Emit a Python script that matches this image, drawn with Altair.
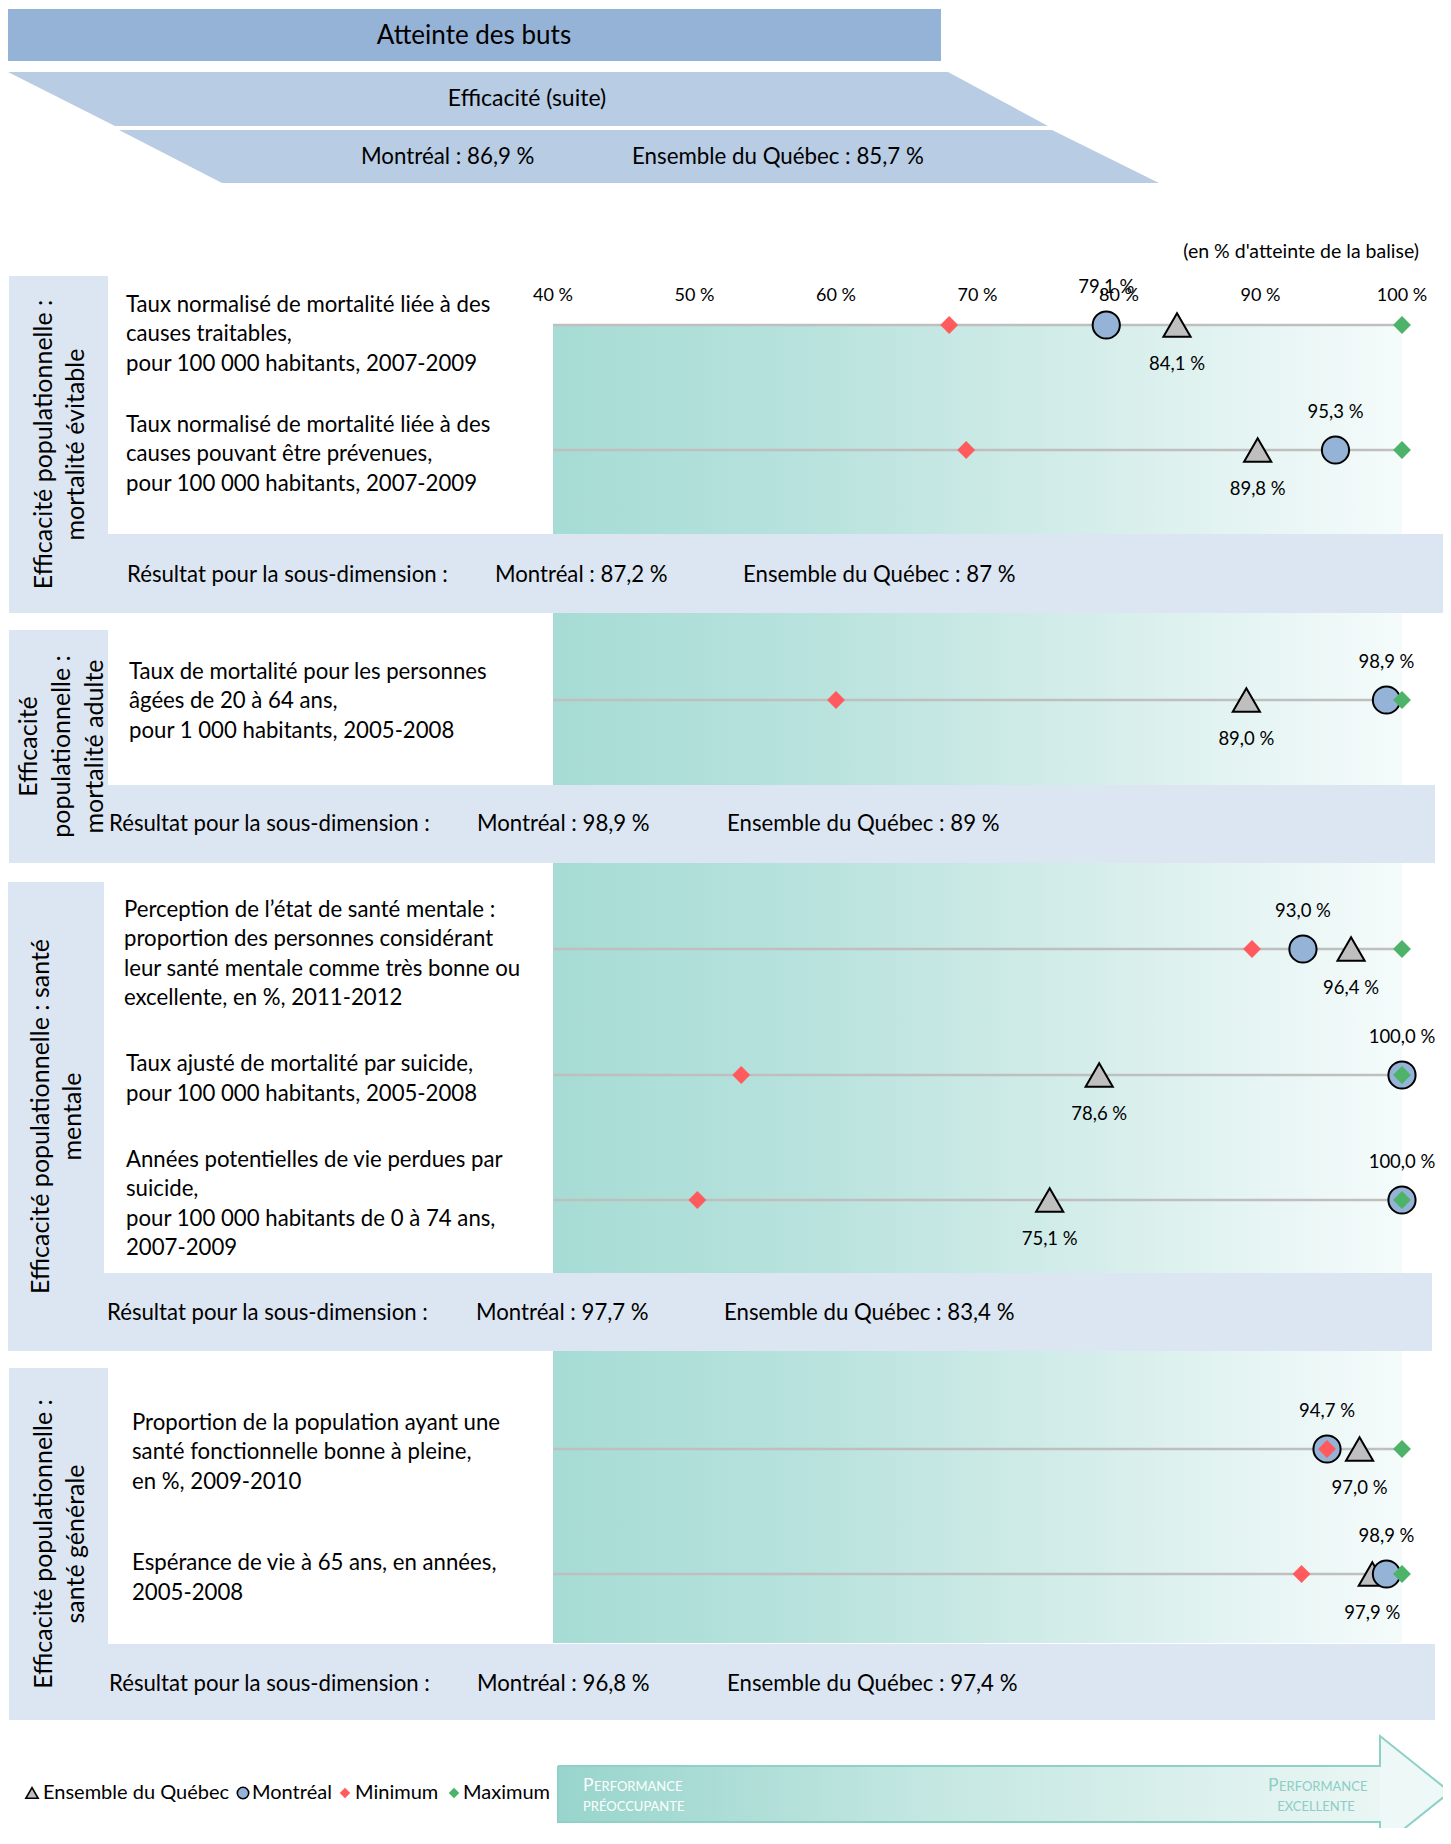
import altair as alt
import pandas as pd

# ---------------- data ----------------
header_title = "Atteinte des buts"
header_sub = "Efficacité (suite)"
header_montreal = "Montréal : 86,9 %"
header_quebec = "Ensemble du Québec : 85,7 %"
scale_note = "(en % d'atteinte de la balise)"

tick_values = [40, 50, 60, 70, 80, 90, 100]
tick_labels = ["40 %", "50 %", "60 %", "70 %", "80 %", "90 %", "100 %"]

panel_titles = [
    "Efficacité populationnelle :\nmortalité évitable",
    "Efficacité\npopulationnelle :\nmortalité adulte",
    "Efficacité populationnelle : santé\nmentale",
    "Efficacité populationnelle :\nsanté générale",
]
result_label = "Résultat pour la sous-dimension :"
panel_montreal = ["Montréal : 87,2 %", "Montréal : 98,9 %", "Montréal : 97,7 %", "Montréal : 96,8 %"]
panel_quebec = ["Ensemble du Québec : 87 %", "Ensemble du Québec : 89 %",
                "Ensemble du Québec : 83,4 %", "Ensemble du Québec : 97,4 %"]

indicator_labels = [
    "Taux normalisé de mortalité liée à des\ncauses traitables,\npour 100 000 habitants, 2007-2009",
    "Taux normalisé de mortalité liée à des\ncauses pouvant être prévenues,\npour 100 000 habitants, 2007-2009",
    "Taux de mortalité pour les personnes\nâgées de 20 à 64 ans,\npour 1 000 habitants, 2005-2008",
    "Perception de l’état de santé mentale :\nproportion des personnes considérant\nleur santé mentale comme très bonne ou\nexcellente, en %, 2011-2012",
    "Taux ajusté de mortalité par suicide,\npour 100 000 habitants, 2005-2008",
    "Années potentielles de vie perdues par\nsuicide,\npour 100 000 habitants de 0 à 74 ans,\n2007-2009",
    "Proportion de la population ayant une\nsanté fonctionnelle bonne à pleine,\nen %, 2009-2010",
    "Espérance de vie à 65 ans, en années,\n2005-2008",
]
quebec_values = [84.1, 89.8, 89.0, 96.4, 78.6, 75.1, 97.0, 97.9]
montreal_values = [79.1, 95.3, 98.9, 93.0, 100.0, 100.0, 94.7, 98.9]
min_values = [68.0, 69.2, 60.0, 89.4, 53.3, 50.2, 94.7, 92.9]
max_values = [100.0, 100.0, 100.0, 100.0, 100.0, 100.0, 100.0, 100.0]

legend_labels = ["Ensemble du Québec", "Montréal", "Minimum", "Maximum"]
arrow_left = ["P", "ERFORMANCE", "PRÉOCCUPANTE"]
arrow_right = ["P", "ERFORMANCE", "EXCELLENTE"]

# ---------------- layout (page pixels) ----------------
W, H = 1435, 1820
X0, Y0 = 8, 8
PCT_RANGE = (553, 1402)
ROW_Y = [325, 450, 700, 949, 1075, 1200, 1449, 1574]
TEXT_Y = [334, 454, 701, 954, 1079, 1204, 1452, 1578]
TEXT_X = [126, 126, 129, 124, 126, 126, 132, 132]
LINE_H = 29.5
BOX = [(9, 108, 276, 613), (9, 108, 630, 863), (6, 104, 882, 1351), (9, 108, 1368, 1720)]
BAND = [(9, 1451, 534, 613), (9, 1435, 785, 863), (6, 1432, 1273, 1351), (9, 1435, 1644, 1720)]
BAND_TEXT_Y = [575, 824, 1313, 1684]
BAND_TEXT_X = [(127, 495, 743), (109, 477, 727), (107, 476, 724), (109, 477, 727)]
TITLE_X = [[43.5, 76.4], [29, 62, 94.5], [41, 73], [43.5, 76.4]]
FONT = "Lato"
FS_BODY = 22.2

C_TITLE = "#95b3d7"
C_BANNER = "#b8cce4"
C_PANEL = "#dce6f2"
C_LINE = "#bfbfbf"
C_MTL = "#95b3d7"
C_QC = "#bfbfbf"
C_MIN = "#ff5b5f"
C_MAX = "#4db368"

sx = alt.Scale(domain=[X0, X0 + W], range=[0, W], nice=False, zero=False)
sy = alt.Scale(domain=[Y0, Y0 + H], range=[0, H], nice=False, zero=False)
sp = alt.Scale(domain=[40, 100], range=[PCT_RANGE[0] - X0, PCT_RANGE[1] - X0], nice=False, zero=False)


def PX(f="x"):
    return alt.X(f"{f}:Q", scale=sx, axis=None)


def PY(f="y"):
    return alt.Y(f"{f}:Q", scale=sy, axis=None)


def PCT(f="v"):
    return alt.X(f"{f}:Q", scale=sp, axis=None)


def rects(rows, color):
    df = pd.DataFrame(rows, columns=["x", "x2", "y", "y2"])
    return alt.Chart(df).mark_rect(color=color, opacity=1).encode(
        x=PX("x"), x2=alt.X2("x2"), y=PY("y"), y2=alt.Y2("y2"))


def texts(rows, align="left", baseline="middle", size=20, color="black", angle=0):
    df = pd.DataFrame(rows, columns=["x", "y", "t"])
    kw = dict(align=align, baseline=baseline, font=FONT, fontSize=size, color=color)
    if angle:
        kw["angle"] = angle
    return alt.Chart(df).mark_text(**kw).encode(x=PX("x"), y=PY("y"), text="t:N")


def split_lines(text, x, yc, lh):
    parts = text.split("\n")
    n = len(parts)
    return [(x, yc + (i - (n - 1) / 2) * lh, p) for i, p in enumerate(parts)]


def fmt(v):
    return f"{v:.1f}".replace(".", ",") + " %"


layers = []

# background gradient of the scale
grad = alt.LinearGradient(
    gradient="linear", x1=0, x2=1, y1=0, y2=0,
    stops=[alt.GradientStop(color="#a6dcd5", offset=0),
           alt.GradientStop(color="#b8e2dd", offset=0.3),
           alt.GradientStop(color="#d6eeeb", offset=0.65),
           alt.GradientStop(color="#f5fbfb", offset=1)])
gdf = pd.DataFrame([{"x": PCT_RANGE[0], "x2": PCT_RANGE[1], "y": ROW_Y[0], "y2": BAND[3][3] - 77}])
layers.append(alt.Chart(gdf).mark_rect(color=grad).encode(
    x=PX("x"), x2=alt.X2("x2"), y=PY("y"), y2=alt.Y2("y2")))

# header
layers.append(rects([(6, 941, 9, 61)], C_TITLE))
ban = pd.DataFrame([
    {"g": 1, "y": 72, "x": 8, "x2": 948}, {"g": 1, "y": 126, "x": 115, "x2": 1048},
    {"g": 2, "y": 130, "x": 119, "x2": 1052}, {"g": 2, "y": 183, "x": 222, "x2": 1159},
])
layers.append(alt.Chart(ban).mark_area(orient="horizontal", color=C_BANNER, opacity=1).encode(
    y=PY("y"), x=PX("x"), x2=alt.X2("x2"), detail="g:N"))
layers.append(texts([(474, 36, header_title)], align="center", size=26))
layers.append(texts([(527, 99, header_sub)], align="center", size=23))
layers.append(texts([(361, 157, header_montreal), (632, 157, header_quebec)], size=22.3))
layers.append(texts([(1419, 252, scale_note)], align="right", size=19.5))

# panels
layers.append(rects(BOX, C_PANEL))
layers.append(rects(BAND, C_PANEL))
title_rows = []
for k, t in enumerate(panel_titles):
    yc = (BOX[k][2] + BOX[k][3]) / 2
    for xi, line in zip(TITLE_X[k], t.split("\n")):
        title_rows.append((xi, yc, line))
layers.append(texts(title_rows, align="center", size=25, angle=270))
band_rows = []
for k in range(4):
    bx = BAND_TEXT_X[k]
    band_rows += [(bx[0], BAND_TEXT_Y[k], result_label),
                  (bx[1], BAND_TEXT_Y[k], panel_montreal[k]),
                  (bx[2], BAND_TEXT_Y[k], panel_quebec[k])]
layers.append(texts(band_rows, size=FS_BODY))

# indicator descriptions
ind_rows = []
for i, t in enumerate(indicator_labels):
    ind_rows += split_lines(t, TEXT_X[i], TEXT_Y[i], LINE_H)
layers.append(texts(ind_rows, size=FS_BODY))

# scale tick labels
tdf = pd.DataFrame({"v": tick_values, "t": tick_labels, "y": [296] * len(tick_values)})
layers.append(alt.Chart(tdf).mark_text(font=FONT, fontSize=18, color="black", baseline="middle").encode(
    x=PCT("v"), y=PY("y"), text="t:N"))

# row lines
rdf = pd.DataFrame({"a": [40] * 8, "b": [100] * 8, "y": ROW_Y})
layers.append(alt.Chart(rdf).mark_rule(color=C_LINE, strokeWidth=2.5).encode(
    x=PCT("a"), x2=alt.X2("b"), y=PY("y")))

df = pd.DataFrame({"y": ROW_Y, "qc": quebec_values, "mtl": montreal_values,
                   "mn": min_values, "mx": max_values})
df["qc_t"] = [fmt(v) for v in quebec_values]
df["mtl_t"] = [fmt(v) for v in montreal_values]

layers.append(alt.Chart(df).mark_point(shape="triangle-up", filled=True, fill=C_QC, stroke="black",
                                       strokeWidth=2, size=740, opacity=1).encode(x=PCT("qc"), y=PY("y")))
layers.append(alt.Chart(df).mark_point(shape="circle", filled=True, fill=C_MTL, stroke="black",
                                       strokeWidth=2, size=740, opacity=1).encode(x=PCT("mtl"), y=PY("y")))
layers.append(alt.Chart(df).mark_point(shape="diamond", filled=True, fill=C_MIN, strokeWidth=0,
                                       size=320, opacity=1).encode(x=PCT("mn"), y=PY("y")))
layers.append(alt.Chart(df).mark_point(shape="diamond", filled=True, fill=C_MAX, strokeWidth=0,
                                       size=320, opacity=1).encode(x=PCT("mx"), y=PY("y")))
layers.append(alt.Chart(df).mark_text(font=FONT, fontSize=18.5, color="black", baseline="middle", dy=-38).encode(
    x=PCT("mtl"), y=PY("y"), text="mtl_t:N"))
layers.append(alt.Chart(df).mark_text(font=FONT, fontSize=18.5, color="black", baseline="middle", dy=39).encode(
    x=PCT("qc"), y=PY("y"), text="qc_t:N"))

# legend
LEG_Y = 1793
leg_sym = [
    ("triangle-up", 32, C_QC, "black", 150),
    ("circle", 243, C_MTL, "black", 130),
    ("diamond", 345, C_MIN, None, 110),
    ("diamond", 454, C_MAX, None, 110),
]
for shape, lx, fill, stroke, size in leg_sym:
    ldf = pd.DataFrame([{"x": lx, "y": LEG_Y}])
    kw = dict(shape=shape, filled=True, fill=fill, size=size, opacity=1)
    if stroke:
        kw.update(stroke=stroke, strokeWidth=1.6)
    else:
        kw.update(strokeWidth=0)
    layers.append(alt.Chart(ldf).mark_point(**kw).encode(x=PX("x"), y=PY("y")))
layers.append(texts([(43, LEG_Y, legend_labels[0]), (252, LEG_Y, legend_labels[1]),
                     (355, LEG_Y, legend_labels[2]), (463, LEG_Y, legend_labels[3])], size=20))

# performance arrow
agrad = alt.LinearGradient(
    gradient="linear", x1=0, x2=1, y1=0, y2=0,
    stops=[alt.GradientStop(color="#98d5cc", offset=0),
           alt.GradientStop(color="#c4e7e2", offset=0.45),
           alt.GradientStop(color="#eaf6f4", offset=1)])
bdf = pd.DataFrame([{"x": 558, "x2": 1381, "y": 1766, "y2": 1822}])
layers.append(alt.Chart(bdf).mark_rect(color=agrad).encode(
    x=PX("x"), x2=alt.X2("x2"), y=PY("y"), y2=alt.Y2("y2")))
hdf = pd.DataFrame([{"y": 1736, "x": 1380, "x2": 1380}, {"y": 1792, "x": 1380, "x2": 1450},
                    {"y": 1848, "x": 1380, "x2": 1380}])
layers.append(alt.Chart(hdf).mark_area(orient="horizontal", color="#eef8f6", opacity=1).encode(
    y=PY("y"), x=PX("x"), x2=alt.X2("x2")))
odf = pd.DataFrame({"i": list(range(8)),
                    "x": [558, 1380, 1380, 1450, 1380, 1380, 558, 558],
                    "y": [1766, 1766, 1736, 1792, 1848, 1822, 1822, 1766]})
layers.append(alt.Chart(odf).mark_line(color="#8fd0c7", strokeWidth=2).encode(
    x=PX("x"), y=PY("y"), order="i:Q"))
layers.append(texts([(583, 1791, arrow_left[0])], baseline="alphabetic", size=17.5, color="white"))
layers.append(texts([(594, 1791, arrow_left[1]), (583, 1811, arrow_left[2])],
                    baseline="alphabetic", size=13, color="white"))
layers.append(texts([(1268, 1791, arrow_right[0])], baseline="alphabetic", size=17.5, color="#8ccdc4"))
layers.append(texts([(1279, 1791, arrow_right[1])], baseline="alphabetic", size=13, color="#8ccdc4"))
layers.append(texts([(1316, 1811, arrow_right[2])], align="center", baseline="alphabetic",
                    size=13, color="#8ccdc4"))

chart = alt.layer(*layers).resolve_scale(x="independent").properties(
    width=W, height=H, padding=0, autosize=alt.AutoSizeParams(type="none"),
    background="white",
).configure_view(strokeWidth=0)

chart.save("out.html", embed_options={"renderer": "svg", "actions": False})
